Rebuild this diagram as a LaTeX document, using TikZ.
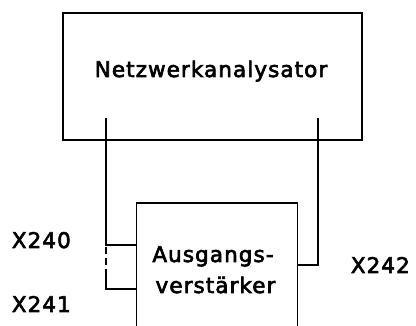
\documentclass[tikz,border=0pt]{standalone}
\usepackage{fontspec}
\setmainfont[LetterSpace=5,FakeBold=3]{DejaVu Sans}
\begin{document}
\begin{tikzpicture}[x=1pt,y=-1pt,line width=1.7pt,
  lbl/.style={font=\fontsize{21.5}{25}\selectfont, inner sep=0pt, anchor=base}]
\useasboundingbox (0,0) rectangle (416,326);
\node[draw, minimum width=299pt, minimum height=127pt, inner sep=0pt] (na) at (212.5,76.5) {};
\node[lbl] (natext) at (211,77) {Netzwerkanalysator};
% lower box (open at bottom)
\coordinate (bl) at (136.5,327);
\coordinate (tl) at (136.5,203);
\coordinate (tr) at (297.5,203);
\coordinate (br) at (297.5,327);
\draw (bl) -- (tl) -- (tr) -- (br);
\node[lbl] (amp1) at (213,262) {Ausgangs-};
\node[lbl] (amp2) at (215.5,293) {verstärker};
% connectors
\coordinate (l0) at (106,118);
\coordinate (l1) at (106,245);
\coordinate (l2) at (136.5,245);
\coordinate (d1) at (106,274);
\coordinate (d2) at (106,289);
\coordinate (d3) at (136.5,289);
\coordinate (r0) at (318,118);
\coordinate (r1) at (318,265);
\coordinate (r2) at (297.5,265);
\draw (l0) -- (l1) -- (l2);
\draw[dash pattern=on 7pt off 4pt, dash phase=-2pt] (l1) -- (d1);
\draw (d1) -- (d2) -- (d3);
\draw (r0) -- (r1) -- (r2);
\node[lbl, anchor=base west] (x240) at (11,248) {X240};
\node[lbl, anchor=base west] (x241) at (11,312) {X241};
\node[lbl, anchor=base west] (x242) at (350,273) {X242};
\end{tikzpicture}
\end{document}
